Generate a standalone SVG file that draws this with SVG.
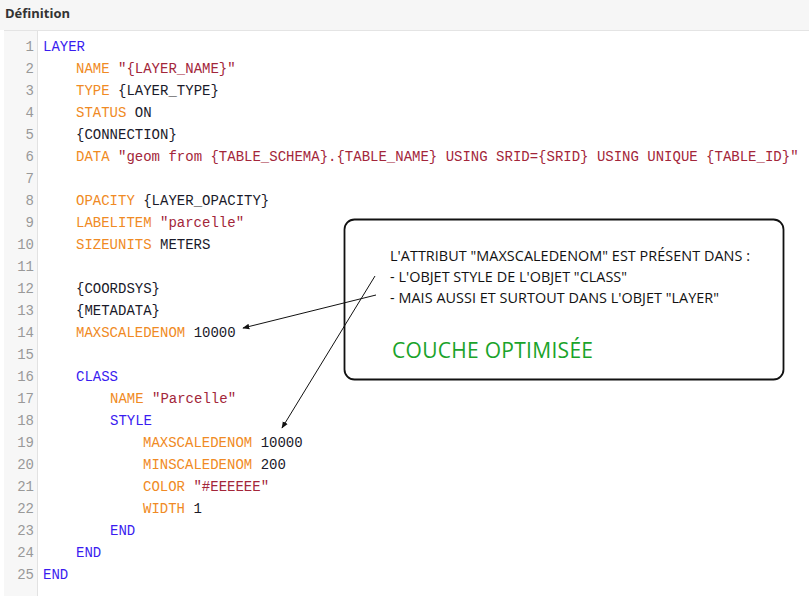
<svg xmlns="http://www.w3.org/2000/svg" width="809" height="596" viewBox="0 0 809 596">
<style>
.c{font-family:"Liberation Mono",monospace;font-size:14px;white-space:pre}
.n{font-family:"Liberation Mono",monospace;font-size:14px;fill:#999;text-anchor:end}
.k{fill:#3a1cf0}.a{fill:#f08a24}.s{fill:#a3263a}.v{fill:#1a1a2a}
.t{font-family:"Open Sans","Liberation Sans",sans-serif;font-size:14.4px;fill:#111}
</style>
<defs><marker id="ah" viewBox="0 0 10 10" refX="9" refY="5" markerWidth="7" markerHeight="7" orient="auto"><path d="M0,1 L10,5 L0,9 z" fill="#111"/></marker></defs>
<rect width="809" height="596" fill="#fff"/>
<rect x="0" y="0" width="809" height="30" fill="#f6f6f6"/>
<text x="5" y="18" font-family="Open Sans,Liberation Sans,sans-serif" font-size="13" font-weight="bold" fill="#333">Définition</text>
<rect x="4" y="30" width="805" height="566" fill="#fff"/>
<line x1="4" y1="30.5" x2="809" y2="30.5" stroke="#e4e4e4"/>
<rect x="4" y="31" width="33" height="565" fill="#f7f7f7"/>
<line x1="37.5" y1="31" x2="37.5" y2="596" stroke="#e2e2e2"/>
<g id="lines">
<text class="n" x="34" y="51">1</text><text class="n" x="34" y="73">2</text><text class="n" x="34" y="95">3</text><text class="n" x="34" y="117">4</text><text class="n" x="34" y="139">5</text><text class="n" x="34" y="161">6</text><text class="n" x="34" y="183">7</text><text class="n" x="34" y="205">8</text><text class="n" x="34" y="227">9</text><text class="n" x="34" y="249">10</text><text class="n" x="34" y="271">11</text><text class="n" x="34" y="293">12</text><text class="n" x="34" y="315">13</text><text class="n" x="34" y="337">14</text><text class="n" x="34" y="359">15</text><text class="n" x="34" y="381">16</text><text class="n" x="34" y="403">17</text><text class="n" x="34" y="425">18</text><text class="n" x="34" y="447">19</text><text class="n" x="34" y="469">20</text><text class="n" x="34" y="491">21</text><text class="n" x="34" y="513">22</text><text class="n" x="34" y="535">23</text><text class="n" x="34" y="557">24</text><text class="n" x="34" y="579">25</text>
</g>
<g id="code" class="c">
<text x="43" y="51" class="c k">LAYER</text>
<text x="76" y="73" class="c"><tspan class="a">NAME </tspan><tspan class="s">"{LAYER_NAME}"</tspan></text>
<text x="76" y="95" class="c"><tspan class="a">TYPE </tspan><tspan class="v">{LAYER_TYPE}</tspan></text>
<text x="76" y="117" class="c"><tspan class="a">STATUS </tspan><tspan class="v">ON</tspan></text>
<text x="76" y="139" class="c v">{CONNECTION}</text>
<text x="76" y="161" class="c"><tspan class="a">DATA </tspan><tspan class="s">"geom from {TABLE_SCHEMA}.{TABLE_NAME} USING SRID={SRID} USING UNIQUE {TABLE_ID}"</tspan></text>
<text x="76" y="205" class="c"><tspan class="a">OPACITY </tspan><tspan class="v">{LAYER_OPACITY}</tspan></text>
<text x="76" y="227" class="c"><tspan class="a">LABELITEM </tspan><tspan class="s">"parcelle"</tspan></text>
<text x="76" y="249" class="c"><tspan class="a">SIZEUNITS </tspan><tspan class="v">METERS</tspan></text>
<text x="76" y="293" class="c v">{COORDSYS}</text>
<text x="76" y="315" class="c v">{METADATA}</text>
<text x="76" y="337" class="c"><tspan class="a">MAXSCALEDENOM </tspan><tspan class="v">10000</tspan></text>
<text x="76" y="381" class="c k">CLASS</text>
<text x="110" y="403" class="c"><tspan class="a">NAME </tspan><tspan class="s">"Parcelle"</tspan></text>
<text x="110" y="425" class="c k">STYLE</text>
<text x="143" y="447" class="c"><tspan class="a">MAXSCALEDENOM </tspan><tspan class="v">10000</tspan></text>
<text x="143" y="469" class="c"><tspan class="a">MINSCALEDENOM </tspan><tspan class="v">200</tspan></text>
<text x="143" y="491" class="c"><tspan class="a">COLOR </tspan><tspan class="s">"#EEEEEE"</tspan></text>
<text x="143" y="513" class="c"><tspan class="a">WIDTH </tspan><tspan class="v">1</tspan></text>
<text x="110" y="535" class="c k">END</text>
<text x="76" y="557" class="c k">END</text>
<text x="43" y="579" class="c k">END</text>
</g>
<g id="note">
<rect x="344.5" y="219.5" width="439" height="160" rx="10" fill="#fff" stroke="#111" stroke-width="1.8"/>
<text class="t" x="390" y="261" textLength="360">L'ATTRIBUT "MAXSCALEDENOM" EST PRÉSENT DANS :</text>
<text class="t" x="390" y="282" textLength="237">- L'OBJET STYLE DE L'OBJET "CLASS"</text>
<text class="t" x="390" y="303" textLength="329">- MAIS AUSSI ET SURTOUT DANS L'OBJET "LAYER"</text>
<text x="392" y="358" font-family="Open Sans,Liberation Sans,sans-serif" font-size="21" fill="#1aa32a" textLength="201">COUCHE OPTIMISÉE</text>
</g>
<g id="connectors" stroke="#111" stroke-width="1" fill="none">
<line x1="376" y1="295" x2="243" y2="328" marker-end="url(#ah)"/>
<line x1="375" y1="276" x2="282" y2="428" marker-end="url(#ah)"/>
</g>
</svg>
